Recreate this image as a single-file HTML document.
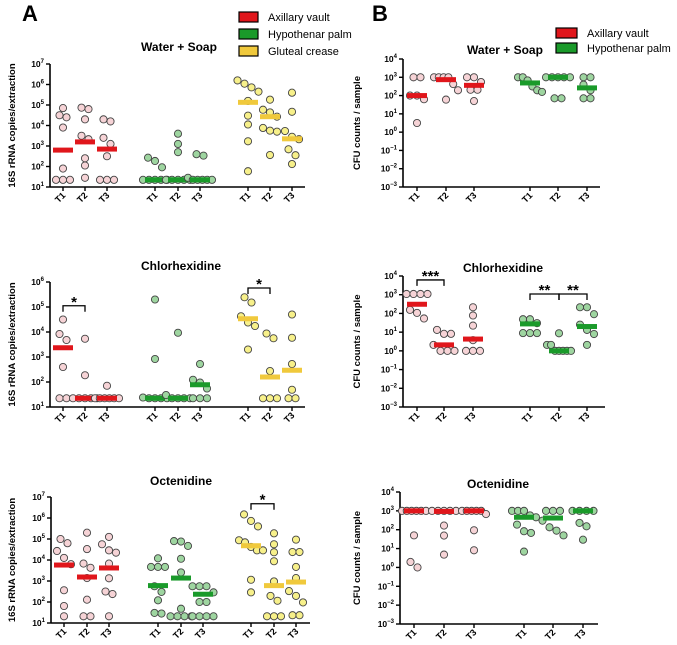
<!DOCTYPE html>
<html><head><meta charset="utf-8"><style>
html,body{margin:0;padding:0;background:#fff}
svg{display:block;font-family:"Liberation Sans",Arial,sans-serif}
</style></head><body>
<svg id="fig" width="677" height="645" viewBox="0 0 677 645" xmlns="http://www.w3.org/2000/svg">
<text x="22" y="21" font-size="22" font-weight="bold">A</text>
<text x="372" y="21" font-size="22" font-weight="bold">B</text>
<g font-size="11">
<rect x="239" y="12" width="19" height="10" fill="#e0161b" stroke="#000" stroke-width="1.2"/><text x="268" y="21">Axillary vault</text>
<rect x="239" y="29" width="19" height="10" fill="#1a9a2a" stroke="#000" stroke-width="1.2"/><text x="268" y="38">Hypothenar palm</text>
<rect x="239" y="46" width="19" height="10" fill="#f0c93c" stroke="#000" stroke-width="1.2"/><text x="268" y="55">Gluteal crease</text>
</g>
<g font-size="11">
<rect x="556" y="28" width="21" height="10" fill="#e0161b" stroke="#000" stroke-width="1.2"/><text x="587" y="37">Axillary vault</text>
<rect x="556" y="43" width="21" height="10" fill="#1a9a2a" stroke="#000" stroke-width="1.2"/><text x="587" y="52">Hypothenar palm</text>
</g>
</svg>
<script>
// ---- data (log10 values) ----
const timeLabels = ['T1','T2','T3'];
const a1Values = [[4.85,4.5,4.4,3.9,1.9,1.35,1.35,1.35],[4.87,4.8,4.3,3.5,3.33,2.4,2.05,1.45],[4.3,4.2,3.4,3.1,2.5,1.35,1.35,1.35],
 [2.43,2.27,1.96,1.35,1.35,1.35,1.35,1.35],[3.6,3.1,2.7,1.35,1.35,1.35,1.35,1.35],[2.6,2.53,1.45,1.35,1.35,1.35,1.35,1.35],
 [6.2,6.04,5.86,5.65,5.2,4.48,4.05,3.23,1.77],[5.26,4.77,4.64,4.43,3.88,3.75,3.7,2.56],[5.6,4.67,3.73,3.45,3.33,2.84,2.55,2.12]];
const a1Medians = [2.8,3.2,2.85,1.35,1.35,1.35,5.13,4.43,3.35];
const b1Values = [[3,3,2,2,1.8,0.5],[3,3,3,3,2.63,2.29,1.78],[3,3,2.74,2.32,2.32,1.7],
 [3,3,2.83,2.5,2.29,2.2],[3,3,3,3,3,1.85,1.85],[3,3,2.6,2.29,1.85,1.85]];
const b1Medians = [2.0,2.87,2.56,2.69,3.0,2.42];
const a2Values = [[4.5,3.92,3.68,2.6,1.35,1.35],[3.73,2.27,1.35,1.35,1.35,1.35,1.35],[1.85,1.35,1.35,1.35,1.35,1.35,1.35],
 [5.3,2.92,1.38,1.35,1.35,1.35,1.35],[3.97,1.48,1.35,1.35,1.35,1.35],[2.72,2.09,1.98,1.74,1.35,1.35,1.35],
 [5.39,5.18,4.63,4.38,4.24,3.3],[3.94,3.75,2.44,1.35,1.35,1.35],[4.7,3.77,2.72,1.69,1.35,1.35]];
const a2Medians = [3.37,1.35,1.35,1.35,1.35,1.89,4.53,2.2,2.47];
const b2Values = [[3.04,3.04,3.04,3.04,2.19,2.03,1.73],[1.12,0.91,0.91,0.32,0,0,0],[2.33,1.89,1.35,0.57,0,0,0],
 [1.69,1.69,1.48,0.95,0.95,0.95],[0.94,0.32,0.32,0,0,0,0,0],[2.33,2.33,1.96,1.12,0.9,0.32,1.4]];
const b2Medians = [2.49,0.32,0.63,1.44,0,1.3];
const a3Values = [[5.0,4.8,4.43,4.1,3.8,2.56,1.81,1.32],[5.3,4.52,3.83,3.63,3.14,2.11,1.32,1.32],[5.1,4.75,4.46,4.35,3.83,3.13,2.5,2.38,1.32],
 [4.08,3.67,3.67,3.67,2.75,2.48,2.08,1.48,1.45],[4.9,4.88,4.67,4.06,3.41,1.68,1.32,1.32,1.32,1.32],[2.75,2.75,2.75,2.46,2.0,2.0,1.32,1.32,1.32,1.32],
 [6.17,5.86,5.6,4.94,4.84,4.62,4.46,4.46,3.06,2.46],[5.27,4.75,4.37,3.94,2.98,2.29,2.06,1.32,1.32,1.32],[4.97,4.38,4.38,3.67,3.14,2.52,2.29,1.98,1.37,1.37]];
const a3Medians = [3.76,3.19,3.62,2.78,3.14,2.37,4.68,2.78,2.95];
const b3Values = [[3,3,3,3,3,3,1.7,0.29,0],[3,3,3,3,3,2.22,1.69,0.68],[3,3,3,3,3,2.83,1.97,0.91],
 [3,3,3,2.76,2.66,2.27,1.92,1.83,0.84],[3,3,3,2.48,2.13,1.7,1.95],[3,3,3,3,2.36,2.18,1.47]];
const b3Medians = [3,2.97,3,2.66,2.62,3];
const a2Sig = [[0,1,5.05,'*'],[6,7,5.76,'*']];
const b2Sig = [[0,1,3.79,'***'],[3,4,3.04,'**'],[4,5,3.04,'**']];
const a3Sig = [[6,7,6.68,'*']];

const fills = ['#f6d3d6','#9ed5a0','#f7f08a'];
const medCols = ['#e0161b','#1a9a2a','#f0c93c'];
const NS='http://www.w3.org/2000/svg';
const svg=document.getElementById('fig');
function mk(tag,attrs,parent){const e=document.createElementNS(NS,tag);for(const k in attrs)e.setAttribute(k,attrs[k]);(parent||svg).appendChild(e);return e;}

const panels=[
 {id:'a-water-soap',x0:50,x1:305,yTop:64,yBot:187,dMax:7,dMin:1,xs:[63,85,107,155,178,200,248,270,292],title:'Water + Soap',tx:179,ty:51,ylab:'16S rRNA copies/extraction',ylx:12,vals:a1Values,med:a1Medians,sig:[]},
 {id:'b-water-soap',x0:403,x1:600,yTop:59,yBot:187,dMax:4,dMin:-3,xs:[417,446,474,530,558,587],title:'Water + Soap',tx:505,ty:54,ylab:'CFU counts / sample',ylx:357,vals:b1Values,med:b1Medians,sig:[]},
 {id:'a-chlorhexidine',x0:50,x1:305,yTop:282,yBot:407,dMax:6,dMin:1,xs:[63,85,107,155,178,200,248,270,292],title:'Chlorhexidine',tx:181,ty:270,ylab:'16S rRNA copies/extraction',ylx:12,vals:a2Values,med:a2Medians,sig:a2Sig},
 {id:'b-chlorhexidine',x0:403,x1:605,yTop:276,yBot:407,dMax:4,dMin:-3,xs:[417,444,473,530,559,587],title:'Chlorhexidine',tx:503,ty:272,ylab:'CFU counts / sample',ylx:357,vals:b2Values,med:b2Medians,sig:b2Sig},
 {id:'a-octenidine',x0:51,x1:310,yTop:497,yBot:623,dMax:7,dMin:1,xs:[64,87,109,158,181,203,251,274,296],title:'Octenidine',tx:181,ty:485,ylab:'16S rRNA copies/extraction',ylx:12,vals:a3Values,med:a3Medians,sig:a3Sig},
 {id:'b-octenidine',x0:400,x1:598,yTop:492,yBot:624,dMax:4,dMin:-3,xs:[414,444,474,524,553,583],title:'Octenidine',tx:498,ty:488,ylab:'CFU counts / sample',ylx:357,vals:b3Values,med:b3Medians,sig:[]}
];

panels.forEach(p=>{
 const g=mk('g',{});
 
 
 const y=v=>p.yBot-(v-p.dMin)/(p.dMax-p.dMin)*(p.yBot-p.yTop);
 const t=mk('text',{x:p.tx,y:p.ty,'font-size':12,'font-weight':'bold','text-anchor':'middle'},g);t.textContent=p.title;
 
 
 const yl=mk('text',{x:p.ylx,y:(p.yTop+p.yBot)/2,'font-size':9.5,'font-weight':'bold','text-anchor':'middle',transform:`rotate(-90 ${p.ylx} ${(p.yTop+p.yBot)/2})`,dy:3},g);yl.textContent=p.ylab;
 
 
 mk('line',{x1:p.x0,y1:p.yTop,x2:p.x0,y2:p.yBot,stroke:'#000','stroke-width':1.6},g);
 mk('line',{x1:p.x0,y1:p.yBot,x2:p.x1,y2:p.yBot,stroke:'#000','stroke-width':1.6},g);
 for(let d=p.dMin;d<=p.dMax;d++){
  const yy=y(d);
  mk('line',{x1:p.x0-4,y1:yy,x2:p.x0,y2:yy,stroke:'#000','stroke-width':1.4},g);
  const tl=mk('text',{x:p.x0-6,y:yy+3,'font-size':8.5,'font-weight':'bold','text-anchor':'end'},g);
  
  
  tl.appendChild(document.createTextNode('10'));
  const s=mk('tspan',{'font-size':6,dy:-4},tl);s.textContent=String(d).replace('-','\u2212');
 }
 p.xs.forEach((x,i)=>{
  mk('line',{x1:x,y1:p.yBot,x2:x,y2:p.yBot+4,stroke:'#000','stroke-width':1.4},g);
  const lx=x+3,ly=p.yBot+9;
  const tl=mk('text',{x:lx,y:ly,'font-size':9,'font-weight':'bold','text-anchor':'end',transform:`rotate(-45 ${lx} ${ly})`},g);
  tl.textContent=timeLabels[i%3];
  
  
  const c=Math.floor(i/3);
  const vs=p.vals[i].slice().sort((a,b)=>b-a);
  const clusters=[];
  vs.forEach(v=>{const last=clusters[clusters.length-1];if(last&&Math.abs(y(last[last.length-1])-y(v))<7)last.push(v);else clusters.push([v]);});
  clusters.forEach(cl=>{
   const sp=cl.length>1?Math.min(7,24/(cl.length-1)):0;
   cl.forEach((v,k)=>{
    const off=(k-(cl.length-1)/2)*sp;
    const pt=mk('circle',{cx:x+off,cy:y(v),r:3.6,fill:fills[c],stroke:'#444','stroke-width':0.9},g);
    
    
   });
  });
  const m=mk('rect',{x:x-10,y:y(p.med[i])-2.5,width:20,height:5,fill:medCols[c]},g);
  
  
 });
 p.sig.forEach(s=>{
  const xa=p.xs[s[0]],xb=p.xs[s[1]],yy=y(s[2]);
  const br=mk('path',{d:`M${xa} ${yy+6}V${yy}H${xb}V${yy+6}`,fill:'none',stroke:'#000','stroke-width':1.3},g);
  
  
  const st=mk('text',{x:(xa+xb)/2,y:yy+1,'font-size':15,'font-weight':'bold','text-anchor':'middle'},g);
  st.textContent=s[3];
  
  
 });
});
</script>
</body></html>
